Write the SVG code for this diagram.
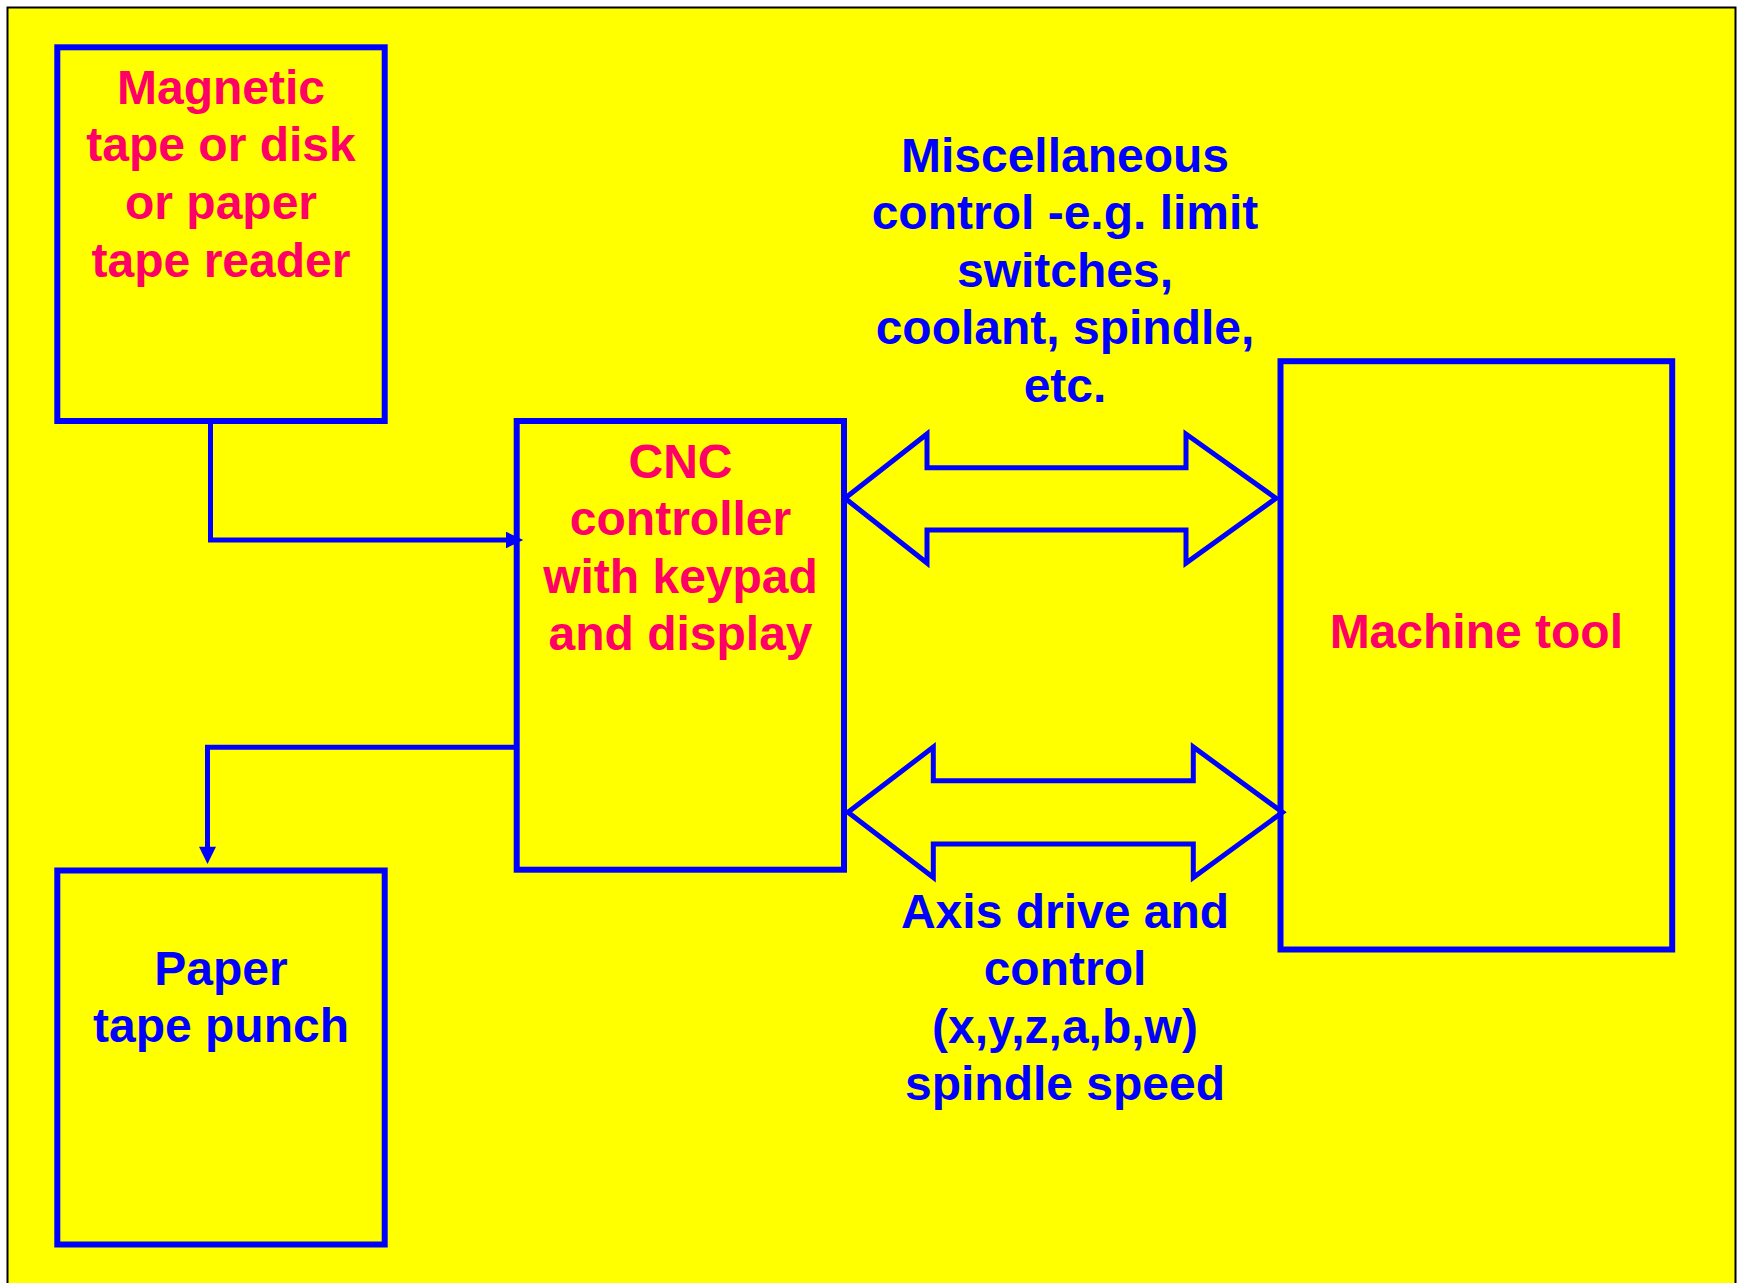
<svg xmlns="http://www.w3.org/2000/svg" width="1740" height="1283" viewBox="0 0 1740 1283">
<style>
.box{fill:none;stroke:#0000FF;stroke-width:6}
.red{fill:#FF0066;font-family:"Liberation Sans",Arial,sans-serif;font-weight:bold;font-size:48px;text-anchor:middle}
.blue{fill:#0000FF;font-family:"Liberation Sans",Arial,sans-serif;font-weight:bold;font-size:48px;text-anchor:middle}
.line{fill:none;stroke:#0000FF;stroke-width:5}
.head{fill:#0000FF;stroke:none}
.dbl{fill:none;stroke:#0000FF;stroke-width:5;stroke-linejoin:miter}
</style>
<rect x="0" y="0" width="1740" height="1283" fill="#FFFFFF"/>
<rect x="7.5" y="7.5" width="1728" height="1295" fill="#FFFF00" stroke="#000000" stroke-width="2"/>

<g id="node-magnetic">
<rect class="box" x="57.3" y="47.3" width="327.4" height="373.7"/>
<text class="red" x="221" y="104">Magnetic</text>
<text class="red" x="221" y="161">tape or disk</text>
<text class="red" x="221" y="218.5">or paper</text>
<text class="red" x="221" y="276.5">tape reader</text>
</g>

<g id="node-cnc">
<rect class="box" x="516.7" y="421" width="327.3" height="448.7"/>
<text class="red" x="680.5" y="477.5">CNC</text>
<text class="red" x="680.5" y="535">controller</text>
<text class="red" x="680.5" y="592.5">with keypad</text>
<text class="red" x="680.5" y="650">and display</text>
</g>

<g id="node-paper">
<rect class="box" x="57.3" y="870.5" width="327.4" height="374"/>
<text class="blue" x="221" y="985">Paper</text>
<text class="blue" x="221" y="1041.7">tape punch</text>
</g>

<g id="node-machine">
<rect class="box" x="1280.5" y="361.2" width="391.7" height="588.3"/>
<text class="red" x="1476.3" y="648.3">Machine tool</text>
</g>

<g id="label-misc">
<text class="blue" x="1065" y="171.7">Miscellaneous</text>
<text class="blue" x="1065" y="229.3">control -e.g. limit</text>
<text class="blue" x="1065" y="286.7">switches,</text>
<text class="blue" x="1065" y="344.3">coolant, spindle,</text>
<text class="blue" x="1065" y="401.7">etc.</text>
</g>

<g id="label-axis">
<text class="blue" x="1065" y="927.7">Axis drive and</text>
<text class="blue" x="1065" y="985">control</text>
<text class="blue" x="1065" y="1042.7">(x,y,z,a,b,w)</text>
<text class="blue" x="1065" y="1100">spindle speed</text>
</g>

<g id="connectors">
<polyline class="line" points="210.5,421 210.5,540 508,540"/>
<polygon class="head" points="506,531.7 523.3,540 506,548.3"/>
<polyline class="line" points="519,747.3 207.5,747.3 207.5,848"/>
<polygon class="head" points="199,846.7 216,846.7 207.5,864"/>
<polygon class="dbl" points="845,498.3 927,434 927,467.7 1186,467.7 1186,434 1276,498.3 1186,563 1186,530 927,530 927,563"/>
<polygon class="dbl" points="848,812.3 933.3,747 933.3,780.7 1193.3,780.7 1193.3,747 1282.5,812.3 1193.3,877.5 1193.3,844 933.3,844 933.3,877.5"/>
</g>
</svg>
